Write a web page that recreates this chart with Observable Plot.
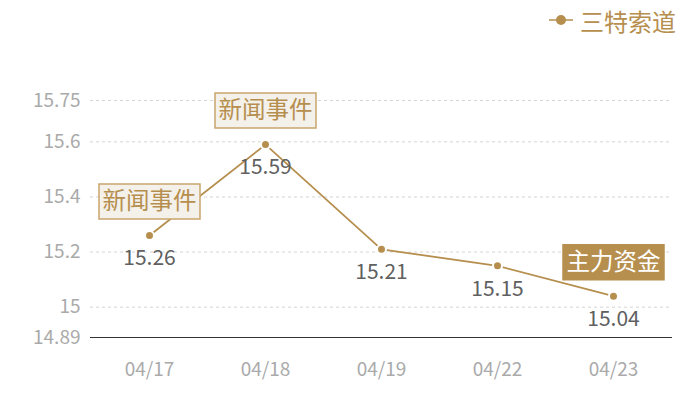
<!DOCTYPE html>
<html>
<head>
<meta charset="utf-8">
<script src="https://cdn.jsdelivr.net/npm/d3@7"></script>
<script src="https://cdn.jsdelivr.net/npm/@observablehq/plot@0.6"></script>
<style>
  html, body { margin: 0; padding: 0; background: #fff; }
  body { width: 700px; height: 400px; overflow: hidden; font-family: "Noto Sans CJK SC", "Noto Sans", sans-serif; }
  #legend { height: 40px; display: flex; justify-content: flex-end; align-items: center; padding-right: 24px; box-sizing: border-box; }
  #legend .item { display: flex; align-items: center; color: #b68f4f; font-size: 24px; }
  #legend svg { margin-right: 7px; }
</style>
</head>
<body>
<div id="legend"></div>
<div id="chart"></div>
<script>
const seriesName = "三特索道";
const dates = ["04/17", "04/18", "04/19", "04/22", "04/23"];
const closes = [15.26, 15.59, 15.21, 15.15, 15.04];
const yTicks = [14.89, 15, 15.2, 15.4, 15.6, 15.75];
const eventDates = ["04/17", "04/18", "04/23"];
const eventLabels = ["新闻事件", "新闻事件", "主力资金"];
const eventTypes = ["news", "news", "fund"];

const gold = "#b68f4f";
const data = dates.map((d, i) => ({date: d, value: closes[i]}));
const events = eventDates.map((d, i) => ({
  date: d, label: eventLabels[i], type: eventTypes[i],
  value: closes[dates.indexOf(d)]
}));

// legend
document.getElementById("legend").innerHTML =
  `<div class="item"><svg width="24" height="12"><line x1="0" y1="6" x2="24" y2="6" stroke="${gold}" stroke-width="1.5"/><circle cx="12" cy="6" r="5" fill="${gold}"/></svg>${seriesName}</div>`;

const boxSymbol = {draw(ctx) { ctx.rect(-50.5, -17.5, 101, 35); }};

const chart = Plot.plot({
  width: 700,
  height: 360,
  marginTop: 60,
  marginBottom: 63,
  marginLeft: 90,
  marginRight: 28,
  style: {fontFamily: "'Noto Sans CJK SC', sans-serif", background: "#fff"},
  x: {type: "point", domain: dates, padding: 0.5, label: null},
  y: {domain: [14.89, 15.75], label: null},
  marks: [
    Plot.ruleY(yTicks.filter(t => t !== 14.89), {stroke: "#d4d4d4", strokeDasharray: "3,3", strokeWidth: 1}),
    Plot.ruleY([14.89], {stroke: "#333", strokeWidth: 1.2}),
    Plot.axisY({ticks: yTicks, tickSize: 0, tickPadding: 10, tickFormat: d => String(d), fontSize: 19, fill: "#aaa", label: null}),
    Plot.axisX({tickSize: 0, tickPadding: 25, fontSize: 19, fill: "#aaa", label: null}),
    Plot.line(data, {x: "date", y: "value", stroke: gold, strokeWidth: 1.8}),
    Plot.dot(data, {x: "date", y: "value", r: 4.5, fill: gold, stroke: "#fff", strokeWidth: 2}),
    Plot.text(data, {x: "date", y: "value", text: d => d.value.toFixed(2), dy: 23, fontSize: 21, fill: "#606060"}),
    Plot.dot(events, {x: "date", y: "value", dy: -34, symbol: boxSymbol, r: 10,
      fill: d => d.type === "fund" ? gold : "#f4f0ea",
      stroke: d => d.type === "fund" ? gold : "#c9a56e", strokeWidth: 1.5}),
    Plot.text(events, {x: "date", y: "value", text: "label", dy: -34, fontSize: 23.5,
      fill: d => d.type === "fund" ? "#fff" : gold})
  ]
});
document.getElementById("chart").appendChild(chart);
</script>
</body>
</html>
